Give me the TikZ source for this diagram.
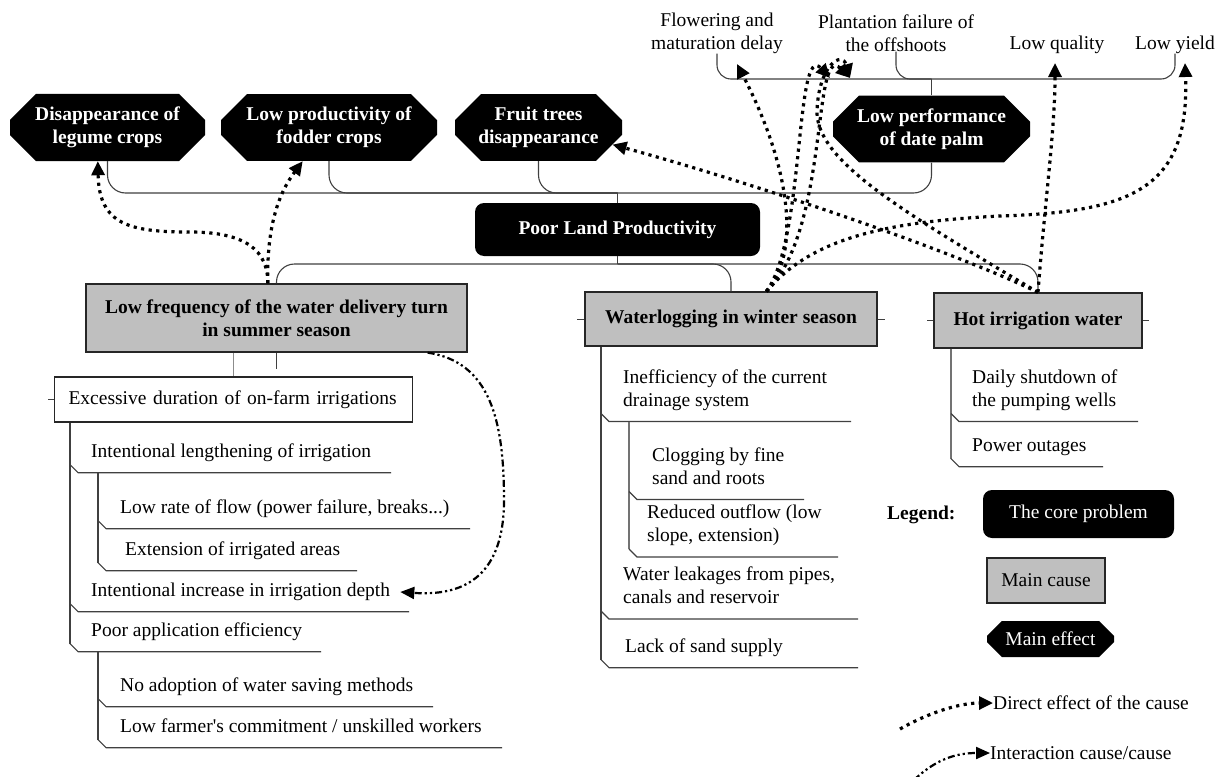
\documentclass[tikz,border=0pt]{standalone}
\usepackage{fontspec}
\setmainfont{Liberation Serif}
\usetikzlibrary{shapes.misc,arrows.meta}
\newcommand\undl[3]{\draw[branch] (#1,0 |- #2.south) -- ++(8,8) coordinate (u) -- (#3,0 |- u);}

\begin{document}
\begin{tikzpicture}[x=1pt,y=-1pt,
  every node/.style={font=\fontsize{19.5}{23}\selectfont},
  effect/.style={chamfered rectangle,chamfered rectangle xsep=13pt,chamfered rectangle ysep=13pt,
    fill=black,text=white,inner sep=0pt,align=center,font=\fontsize{19.5}{23}\selectfont\bfseries},
  core/.style={rectangle,rounded corners=9pt,fill=black,text=white,inner sep=0pt,
    font=\fontsize{19.5}{23}\selectfont\bfseries},
  cause/.style={rectangle,draw=black!85,line width=1.3pt,fill=black!25,inner sep=0pt,align=center,
    font=\fontsize{19.5}{23}\selectfont\bfseries},
  subeff/.style={align=center,inner sep=0pt},
  causeitem/.style={anchor=west,align=left,inner sep=0pt,execute at begin node=\strut,execute at end node=\strut},
  branch/.style={draw=black!75,line width=1.1pt},
  direct/.style={line width=3.2pt,dash pattern=on 3.2pt off 4.4pt,-{Triangle[length=14pt,width=13pt]}},
  interact/.style={line width=2.2pt,dash pattern=on 7pt off 3pt on 2.2pt off 3pt on 2.2pt off 3pt,
    -{Triangle[length=14pt,width=12pt]}}]
\fill[white] (0,0) rectangle (1225,776);
\useasboundingbox (0,0) rectangle (1225,776);

\node[effect,minimum width=195pt,minimum height=59pt] (legume) at (107.5,127.5) {Disappearance of\\legume crops};
\node[effect,minimum width=216pt,minimum height=59pt] (fodder) at (329,127.5) {Low productivity of\\fodder crops};
\node[effect,minimum width=167pt,minimum height=59pt] (fruit) at (538.5,127.5) {Fruit trees\\disappearance};
\node[effect,minimum width=197pt,minimum height=60pt] (palm) at (931.5,129) {Low performance\\of date palm};

\node[subeff] (flower) at (717,33) {Flowering and\\maturation delay};
\node[subeff] (plant) at (896,33) {Plantation failure of\\the offshoots};
\node[subeff] (quality) at (1057,44.5) {Low quality};
\node[subeff] (yield) at (1175,44.5) {Low yield};

\node[core,minimum width=285pt,minimum height=53pt] (core) at (617.5,229.5) {Poor Land Productivity};

\node[cause,minimum width=381pt,minimum height=68pt] (freq) at (276.5,318) {Low frequency of the water delivery turn\\in summer season};
\node[cause,minimum width=292pt,minimum height=54pt] (waterlog) at (731,319) {Waterlogging in winter season};
\node[cause,minimum width=208pt,minimum height=55pt] (hot) at (1038,320.5) {Hot irrigation water};

\node[draw=black!85,line width=1.1pt,anchor=west,inner xsep=14pt,inner ysep=0pt,minimum height=45pt,
  text width=330pt,align=left] (excess) at (54,399.5) {Excessive duration of on-farm irrigations};
\node[causeitem] (lengthen) at (91,453) {Intentional lengthening of irrigation};
\node[causeitem] (lowrate) at (120,509) {Low rate of flow (power failure, breaks...)};
\node[causeitem] (extension) at (125,551) {Extension of irrigated areas};
\node[causeitem] (increase) at (91,592) {Intentional increase in irrigation depth};
\node[causeitem] (poorapp) at (91,632) {Poor application efficiency};
\node[causeitem] (noadopt) at (120,687) {No adoption of water saving methods};
\node[causeitem] (farmer) at (120,728) {Low farmer\textquotesingle s commitment / unskilled workers};

\node[causeitem] (ineff) at (623,391.5) {Inefficiency of the current\\drainage system};
\node[causeitem] (clog) at (652,469.5) {Clogging by fine\\sand and roots};
\node[causeitem] (reduced) at (647,527) {Reduced outflow (low\\slope, extension)};
\node[causeitem] (leak) at (623,589) {Water leakages from pipes,\\canals and reservoir};
\node[causeitem] (lacksand) at (625,648) {Lack of sand supply};

\node[causeitem] (daily) at (972,391.5) {Daily shutdown of\\the pumping wells};
\node[causeitem] (power) at (972,447) {Power outages};

\node[anchor=west,inner sep=0pt,font=\fontsize{19.5}{23}\selectfont\bfseries] (legend) at (887,515) {Legend:};
\node[core,minimum width=191pt,minimum height=48pt,font=\fontsize{19.5}{23}\selectfont] (legcore) at (1078.5,514) {The core problem};
\node[cause,minimum width=118pt,minimum height=45pt,font=\fontsize{19.5}{23}\selectfont] (legcause) at (1046,580.5) {Main cause};
\node[effect,minimum width=127pt,minimum height=36pt,chamfered rectangle xsep=8pt,chamfered rectangle ysep=8pt,
  font=\fontsize{19.5}{23}\selectfont] (legeffect) at (1050.5,639) {Main effect};
\node[anchor=west,inner sep=0pt] (legdirect) at (993,703) {Direct effect of the cause};
\node[anchor=west,inner sep=0pt] (leginteract) at (990,753) {Interaction cause/cause};

\coordinate (effline) at (0,193);
\coordinate (causeline) at (0,264);
\coordinate (subline) at (0,79);
\coordinate (tflower) at (737,64);
\coordinate (tplanta) at (830,78);
\coordinate (tplantb) at (850,78);
\coordinate (tquality) at (1055,63);
\coordinate (tyield) at (1185,63);
\coordinate (legdirfoot) at (900,729);
\coordinate (legintfoot) at (914,780);

\draw[branch,rounded corners=18pt] (legume.south) |- (palm.south |- effline) -- (palm.south);
\draw[branch,rounded corners=18pt] (fodder.south) |- (core.north |- effline);
\draw[branch,rounded corners=18pt] (fruit.south) |- (core.north |- effline);
\draw[branch] (core.north) -- (core.north |- effline);
\draw[branch,rounded corners=18pt] (freq.north) |- (hot.north |- causeline) -- (hot.north);
\draw[branch,rounded corners=18pt] (waterlog.north) |- (core.south |- causeline);
\draw[branch] (core.south) -- (core.south |- causeline);
\draw[branch,rounded corners=14pt] (flower.south) |- (yield.south |- subline) -- (yield.south);
\draw[branch,rounded corners=14pt] (plant.south) |- (palm.north |- subline);
\draw[branch] (palm.north) -- (palm.north |- subline);

\draw[branch,draw=black!45,line width=0.8pt] (excess.north |- freq.south) -- (excess.north);
\draw[branch] (freq.south) -- ++(0,16);
\draw[branch,line width=0.6pt] (excess.west) -- ++(-6,0);
\draw[branch] (70,0 |- excess.south) -- (70,0 |- poorapp.south);
\undl{70}{lengthen}{391}
\draw[branch] (98,0 |- lengthen.south) ++(0,8) -- (98,0 |- extension.south);
\undl{98}{lowrate}{470}
\undl{98}{extension}{357}
\undl{70}{increase}{409}
\undl{70}{poorapp}{321}
\draw[branch] (98,0 |- poorapp.south) ++(0,8) -- (98,0 |- farmer.south);
\undl{98}{noadopt}{433}
\undl{98}{farmer}{502}

\draw[branch,line width=0.6pt] (waterlog.west) -- ++(-7,0);
\draw[branch,line width=0.6pt] (waterlog.east) -- ++(7,0);
\draw[branch] (601,0 |- waterlog.south) -- (601,0 |- lacksand.south);
\undl{601}{ineff}{851}
\draw[branch,draw=black!55] (629,0 |- ineff.south) ++(0,8) -- (629,0 |- reduced.south);
\undl{629}{clog}{804}
\undl{629}{reduced}{838}
\undl{601}{leak}{858}
\undl{601}{lacksand}{858}

\draw[branch,line width=0.6pt] (hot.west) -- ++(-6,0);
\draw[branch,line width=0.6pt] (hot.east) -- ++(6,0);
\draw[branch,draw=black!55] (951,0 |- hot.south) -- (951,0 |- power.south);
\undl{951}{daily}{1138}
\undl{951}{power}{1103}

\draw[direct] (freq.104) .. controls (268,250) and (245,232) .. (190,232) .. controls (130,232) and (99,225) .. (legume.254);
\draw[direct] (freq.104) .. controls (266,215) and (285,185) .. (fodder.232);
\draw[direct] (waterlog.38) .. controls (800,255) and (792,170) .. (tflower);
\draw[direct] (waterlog.38) .. controls (805,240) and (795,40) .. (tplanta);
\draw[direct] (waterlog.38) .. controls (830,230) and (812,40) .. (tplantb);
\draw[direct] (waterlog.38) .. controls (810,240) and (880,222) .. (1000,216) .. controls (1130,212) and (1190,190) .. (tyield);
\draw[direct] (hot.north) .. controls (950,250) and (760,185) .. (fruit.-13);
\draw[direct] (hot.north) .. controls (900,210) and (815,160) .. (817,110) .. controls (819,65) and (842,50) .. (tplantb);
\draw[direct] (hot.north) .. controls (1045,200) and (1055,130) .. (tquality);
\draw[interact] ([xshift=-40pt]freq.south east) .. controls (490,362) and (504,420) .. (504,500) .. controls (504,580) and (460,596) .. ([xshift=10pt]increase.east);

\draw[direct] (legdirfoot) .. controls (930,712) and (960,703) .. (legdirect.west);
\draw[interact] (legintfoot) .. controls (935,760) and (955,753) .. (leginteract.west);
\end{tikzpicture}
\end{document}
